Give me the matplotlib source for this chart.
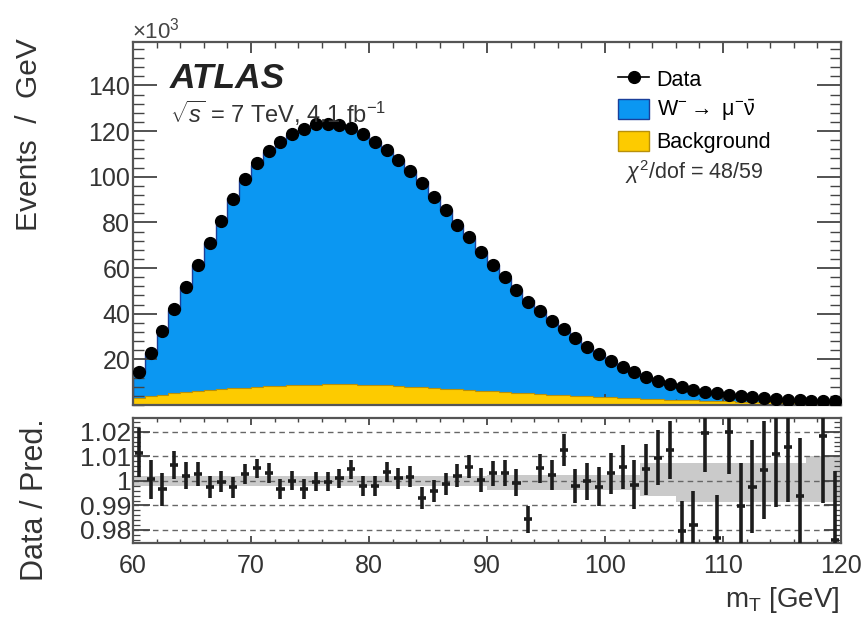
import numpy as np
import matplotlib
matplotlib.use('Agg')
import matplotlib.pyplot as plt
from matplotlib.patches import Patch
from matplotlib.lines import Line2D
from matplotlib.ticker import MultipleLocator, FixedLocator

plt.rcParams['font.family'] = ['Liberation Sans', 'DejaVu Sans']
plt.rcParams['mathtext.fontset'] = 'custom'
plt.rcParams['mathtext.rm'] = 'Liberation Sans'
plt.rcParams['mathtext.it'] = 'Liberation Sans:italic'

# m_T bins, 1 GeV wide
bin_edges = np.arange(60, 121, 1)

# data, events / GeV in units of 10^3
data_k = [14.6, 22.7, 32.6, 42.0, 51.7, 61.5, 71.0, 80.5, 90.3, 98.8,
          105.8, 111.2, 115.1, 118.5, 121.0, 122.9, 123.0, 122.5, 121.5, 118.5,
          115.1, 111.9, 107.5, 102.7, 97.3, 91.2, 85.3, 79.0, 73.4, 67.0,
          61.5, 55.9, 50.5, 45.3, 41.4, 37.0, 33.2, 29.3, 25.6, 22.4,
          19.4, 16.8, 14.6, 12.4, 10.7, 9.2, 7.8, 6.6, 5.8, 5.1,
          4.4, 3.95, 3.4, 2.9, 2.5, 2.2, 2.1, 1.9, 1.76, 1.7]

# background, units of 10^3
bkg_k = [3.2, 3.9, 4.5, 5.1, 5.6, 6.1, 6.5, 6.9, 7.3, 7.6,
         7.9, 8.2, 8.4, 8.6, 8.8, 8.9, 9.0, 9.0, 9.0, 8.9,
         8.8, 8.6, 8.4, 8.1, 7.8, 7.5, 7.2, 6.9, 6.6, 6.3,
         6.0, 5.7, 5.4, 5.1, 4.8, 4.5, 4.3, 4.0, 3.8, 3.6,
         3.4, 3.2, 3.0, 2.8, 2.6, 2.4, 2.2, 2.0, 1.9, 1.7,
         1.6, 1.5, 1.4, 1.3, 1.2, 1.1, 1.0, 1.0, 0.9, 0.9]

# data / prediction (nan = off scale)
ratio = [1.0115, 1.0006, 0.9966, 1.0065, 1.0021, 1.0028, 0.9974, 0.9997, 0.9974, 1.0028,
         1.0051, 1.0033, 0.9966, 1.0001, 0.9966, 0.9997, 0.9997, 1.0010, 1.0047, 0.9979,
         0.9979, 1.0037, 1.0010, 1.0017, 0.9929, 0.9960, 0.9987, 1.0020, 1.0058, 1.0003,
         1.0031, 1.0031, 0.9993, 0.9843, 1.0051, 1.0024, 1.0124, 0.9978, 0.9998, 0.9977,
         1.0030, 1.0055, 0.9985, 1.0048, 1.0095, 1.0125, 0.9794, 0.9822, 1.0194, 0.9767,
         1.0201, 0.9899, 0.9977, 1.0045, 1.0108, 1.0139, 0.9939, np.nan, 1.0181, 0.9759]

ratio_err = [0.0100, 0.0081, 0.0068, 0.0058, 0.0054, 0.0048, 0.0045, 0.0043, 0.0042, 0.0041,
             0.0040, 0.0040, 0.0040, 0.0040, 0.0040, 0.0040, 0.0040, 0.0040, 0.0040, 0.0040,
             0.0040, 0.0041, 0.0042, 0.0043, 0.0044, 0.0045, 0.0046, 0.0047, 0.0048, 0.0049,
             0.0050, 0.0052, 0.0054, 0.0056, 0.0058, 0.0062, 0.0065, 0.0070, 0.0075, 0.0079,
             0.0084, 0.0090, 0.0099, 0.0104, 0.0112, 0.0118, 0.0125, 0.0136, 0.0156, 0.0174,
             0.0172, 0.0172, 0.0188, 0.0199, 0.0213, 0.0227, 0.0236, 0.0250, 0.0271, 0.0281]

# prediction uncertainty band (up / down from 1)
band_up = [0.0018, 0.0018, 0.0018, 0.0018, 0.0018, 0.0018, 0.0018, 0.0018, 0.0018, 0.0018,
           0.0018, 0.0018, 0.0018, 0.0018, 0.0018, 0.0018, 0.0018, 0.0018, 0.0018, 0.0018,
           0.0018, 0.0018, 0.0018, 0.0018, 0.0018, 0.0018, 0.0018, 0.0018, 0.0018, 0.0018,
           0.0025, 0.0025, 0.0025, 0.0025, 0.0025, 0.0025, 0.0025, 0.0025, 0.0025, 0.0025,
           0.0025, 0.0025, 0.0025, 0.0072, 0.0072, 0.0072, 0.0072, 0.0072, 0.0072, 0.0072,
           0.0072, 0.0072, 0.0072, 0.0072, 0.0072, 0.0072, 0.0072, 0.0100, 0.0100, 0.0100]
band_dn = [0.0022, 0.0022, 0.0022, 0.0022, 0.0022, 0.0022, 0.0022, 0.0022, 0.0022, 0.0022,
           0.0022, 0.0022, 0.0022, 0.0022, 0.0022, 0.0022, 0.0022, 0.0022, 0.0022, 0.0022,
           0.0022, 0.0022, 0.0022, 0.0022, 0.0022, 0.0022, 0.0022, 0.0022, 0.0022, 0.0022,
           0.0038, 0.0038, 0.0038, 0.0038, 0.0038, 0.0038, 0.0038, 0.0038, 0.0038, 0.0038,
           0.0038, 0.0038, 0.0038, 0.0060, 0.0060, 0.0060, 0.0085, 0.0085, 0.0085, 0.0085,
           0.0085, 0.0085, 0.0085, 0.0085, 0.0085, 0.0085, 0.0085, 0.0085, 0.0085, 0.0085]

blue = '#0b97f2'
yellow = '#fdcb00'

data = np.array(data_k)
bkg = np.array(bkg_k)
r = np.array(ratio)
centers = 0.5 * (bin_edges[:-1] + bin_edges[1:])
# total prediction = data / (data/pred)
pred = np.where(np.isnan(r), data, data / np.nan_to_num(r, nan=1.0))

fig = plt.figure(figsize=(8.64, 6.21), dpi=100)
ax1 = fig.add_axes([0.1539, 0.3478, 0.8194, 0.5845])
ax2 = fig.add_axes([0.1539, 0.1256, 0.8194, 0.2013])

# main panel
ax1.stairs(pred, bin_edges, fill=True, color=blue, zorder=1)
ax1.stairs(pred, bin_edges, color='#1a3f9a', lw=1.0, zorder=1.5)
ax1.stairs(bkg, bin_edges, fill=True, color=yellow, zorder=2)
ax1.stairs(bkg, bin_edges, color='#b8900a', lw=0.8, zorder=2.5)
ax1.plot(centers, data, 'o', color='k', ms=8.5, zorder=3)

ax1.set_xlim(60, 120)
ax1.set_ylim(0, 159)
ax1.yaxis.set_major_locator(FixedLocator([20, 40, 60, 80, 100, 120, 140]))
ax1.yaxis.set_minor_locator(MultipleLocator(4))
ax1.xaxis.set_major_locator(MultipleLocator(10))
ax1.xaxis.set_minor_locator(MultipleLocator(2))
ax1.tick_params(axis='both', which='both', direction='in', top=True, right=True, colors='#444')
ax1.tick_params(axis='y', which='major', length=17, width=1.3, labelsize=18, labelcolor='#333', pad=2)
ax1.tick_params(axis='y', which='minor', length=8, width=1.0)
ax1.tick_params(axis='x', which='major', length=8, width=1.3, labelbottom=False)
ax1.tick_params(axis='x', which='minor', length=4, width=1.0)
for s in ax1.spines.values():
    s.set_linewidth(1.6)
    s.set_color('#555')

ax1.text(0.052, 0.945, 'ATLAS', transform=ax1.transAxes, fontsize=25.5,
         fontweight='bold', fontstyle='italic', va='top', ha='left', color='#222')
ax1.text(0.052, 0.845, r'$\sqrt{s}$ = 7 TeV, 4.1 fb$^{-1}$', transform=ax1.transAxes,
         fontsize=17, va='top', ha='left', color='#333')

handles = [Line2D([], [], color='k', marker='o', ms=8.5, lw=1.2),
           Patch(facecolor=blue, edgecolor='#1a3f9a'),
           Patch(facecolor=yellow, edgecolor='#b8900a')]
labels = ['Data', r'W$^{-}\rightarrow$ μ$^{-}\bar{\mathrm{\nu}}$', 'Background']
ax1.legend(handles, labels, loc='upper left', bbox_to_anchor=(0.685, 0.928),
           frameon=False, fontsize=15.5, handlelength=1.45, handleheight=1.1,
           handletextpad=0.35, labelspacing=0.34, borderaxespad=0, borderpad=0)
ax1.text(0.695, 0.642, r'$\chi^{2}$/dof = 48/59', transform=ax1.transAxes,
         fontsize=15.5, va='center', ha='left', color='#333')

fig.text(0.153, 0.938, r'$\times$10$^{3}$', fontsize=16, ha='left', va='baseline', color='#444')
fig.text(0.033, 0.939, 'Events  /  GeV', rotation=90, fontsize=21.5, ha='center', va='top', color='#333')

# ratio panel
ax2.stairs(np.array(band_up) + 1.0, bin_edges, baseline=1.0 - np.array(band_dn),
           fill=True, color='#cacaca', zorder=1)
for yv in [0.98, 0.99, 1.0, 1.01, 1.02]:
    ax2.axhline(yv, color='#666', lw=1.0, ls=(0, (4, 3)), zorder=1.5)
ax2.errorbar(centers, r, yerr=ratio_err, xerr=0.35, fmt='none', ecolor='#1c1c1c',
             elinewidth=2.6, capsize=0, zorder=3)
ax2.set_xlim(60, 120)
ax2.set_ylim(0.9747, 1.0256)
ax2.yaxis.set_major_locator(FixedLocator([0.98, 0.99, 1.0, 1.01, 1.02]))
ax2.yaxis.set_minor_locator(MultipleLocator(0.002))
ax2.set_yticklabels(['0.98', '0.99', '1', '1.01', '1.02'])
ax2.xaxis.set_major_locator(MultipleLocator(10))
ax2.xaxis.set_minor_locator(MultipleLocator(2))
ax2.tick_params(axis='both', which='both', direction='in', top=True, right=True, colors='#444')
ax2.tick_params(axis='both', which='major', labelsize=18, labelcolor='#333')
ax2.tick_params(axis='y', which='major', labelsize=19)
ax2.tick_params(axis='y', which='major', length=12, width=1.3, pad=1)
ax2.tick_params(axis='y', which='minor', length=5, width=0.9)
ax2.tick_params(axis='x', which='major', length=5, width=1.3, pad=8)
ax2.tick_params(axis='x', which='minor', length=3, width=1.0)
for s in ax2.spines.values():
    s.set_linewidth(1.6)
    s.set_color('#555')

fig.text(0.04, 0.327, 'Data / Pred.', rotation=90, fontsize=22, ha='center', va='top', color='#333')
fig.text(0.972, 0.034, r'm$_{\mathrm{T}}$ [GeV]', fontsize=20, ha='right', va='center', color='#333')

fig.savefig('out.png', dpi=100, facecolor='white')
